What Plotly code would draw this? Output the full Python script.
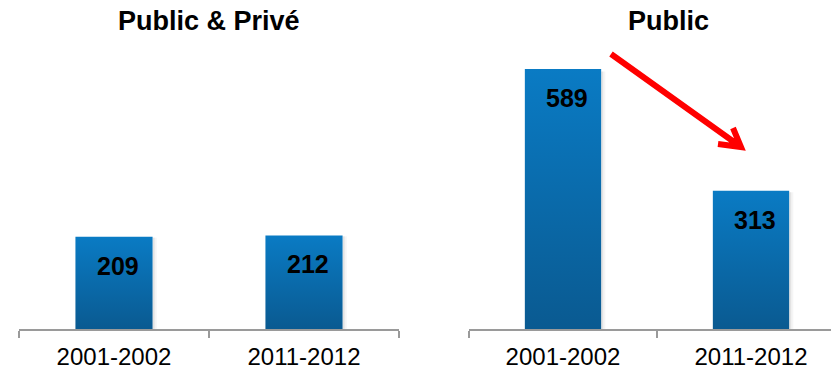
import plotly.graph_objects as go

# Data
periods = ["2001-2002", "2011-2012"]
panel_titles = ["Public & Privé", "Public"]
public_prive = [209, 212]
public = [589, 313]

W, H = 831, 369
FONT = "Liberation Sans, Arial, sans-serif"
BAR_TOP = "#0A7BC4"
BAR_BOTTOM = "#0A5A91"
AXIS_GRAY = "#9A9A9A"
BAR_HALF = 0.203  # half bar width in category units

# horizontal extents of the two panels (pixels)
left_px = (19, 399)
right_px = (469, 831)
cat_px = 188  # width of one category slot in the right panel
right_hi = -0.5 + (right_px[1] - right_px[0]) / cat_px

base_px = 329  # baseline of bars, from top
y_max = 745

fig = go.Figure()


def add_bars(values, xaxis):
    for i, v in enumerate(values):
        x0, x1 = i - BAR_HALF, i + BAR_HALF
        # soft shadow to the right of the bar
        for k, a in enumerate([0.07, 0.04]):
            fig.add_trace(go.Scatter(
                x=[x1, x1 + 0.011 * (k + 1), x1 + 0.011 * (k + 1), x1, x1],
                y=[0, 0, v * 0.99, v * 0.99, 0],
                fill="toself", mode="none",
                fillcolor=f"rgba(0,0,0,{a})",
                xaxis=xaxis, yaxis="y", hoverinfo="skip", showlegend=False))
        fig.add_trace(go.Scatter(
            x=[x0, x1, x1, x0, x0],
            y=[0, 0, v, v, 0],
            fill="toself", mode="none",
            fillgradient=dict(type="vertical", start=0, stop=v,
                              colorscale=[[0, BAR_BOTTOM], [1, BAR_TOP]]),
            xaxis=xaxis, yaxis="y", hoverinfo="skip", showlegend=False))
        fig.add_annotation(
            x=i, y=v, xref=xaxis, yref="y", text=f"<b>{v}</b>",
            showarrow=False, xshift=4, yshift=-29, yanchor="middle",
            font=dict(family=FONT, size=25, color="black"))


add_bars(public_prive, "x")
add_bars(public, "x2")

# label axes (overlays) carry category names
fig.add_trace(go.Scatter(x=[0, 1], y=[0, 0], mode="none", xaxis="x3", yaxis="y",
                         hoverinfo="skip", showlegend=False))
fig.add_trace(go.Scatter(x=[0, 1], y=[0, 0], mode="none", xaxis="x4", yaxis="y",
                         hoverinfo="skip", showlegend=False))

y_dom = [(H - base_px) / H, 1]
dom_l = [left_px[0] / W, left_px[1] / W]
dom_r = [right_px[0] / W, 1]

line_axis = dict(showgrid=False, zeroline=False, showline=True, linecolor=AXIS_GRAY,
                 linewidth=2, ticks="outside", ticklen=7, tickwidth=2,
                 tickcolor=AXIS_GRAY, tickvals=[-0.5, 0.5, 1.5],
                 ticktext=["", "", ""], anchor="y", automargin=False)
label_axis = dict(showgrid=False, zeroline=False, showline=False, ticks="",
                  tickvals=[0, 1], ticktext=periods, anchor="y", automargin=False,
                  tickfont=dict(family=FONT, size=24, color="black"),
                  ticklabelstandoff=11)

fig.update_layout(
    width=W, height=H,
    margin=dict(l=0, r=0, t=0, b=0),
    paper_bgcolor="white", plot_bgcolor="white",
    showlegend=False,
    xaxis=dict(domain=dom_l, range=[-0.5, 1.5], **line_axis),
    xaxis2=dict(domain=dom_r, range=[-0.5, right_hi], **line_axis),
    xaxis3=dict(domain=dom_l, range=[-0.5, 1.5], overlaying="x", **label_axis),
    xaxis4=dict(domain=dom_r, range=[-0.5, right_hi], overlaying="x2", **label_axis),
    yaxis=dict(domain=y_dom, range=[0, y_max], visible=False, fixedrange=True,
               automargin=False),
)

# panel titles
for title, cx in zip(panel_titles, [209, 668]):
    fig.add_annotation(x=cx / W, y=1 - 21 / H, xref="paper", yref="paper",
                       text=f"<b>{title}</b>", showarrow=False,
                       xanchor="center", yanchor="middle",
                       font=dict(family=FONT, size=27, color="black"))


# red decline arrow between the two public bars
def p(x, y):
    return f"{x / W:.5f},{1 - y / H:.5f}"


arrow_path = (f"M{p(611, 54)} L{p(741, 147)} "
              f"M{p(718, 144)} L{p(741, 147)} L{p(733, 128)}")
fig.add_shape(type="path", path=arrow_path, xref="paper", yref="paper",
              line=dict(color="#FF0000", width=6))

fig.write_html("out.html")
